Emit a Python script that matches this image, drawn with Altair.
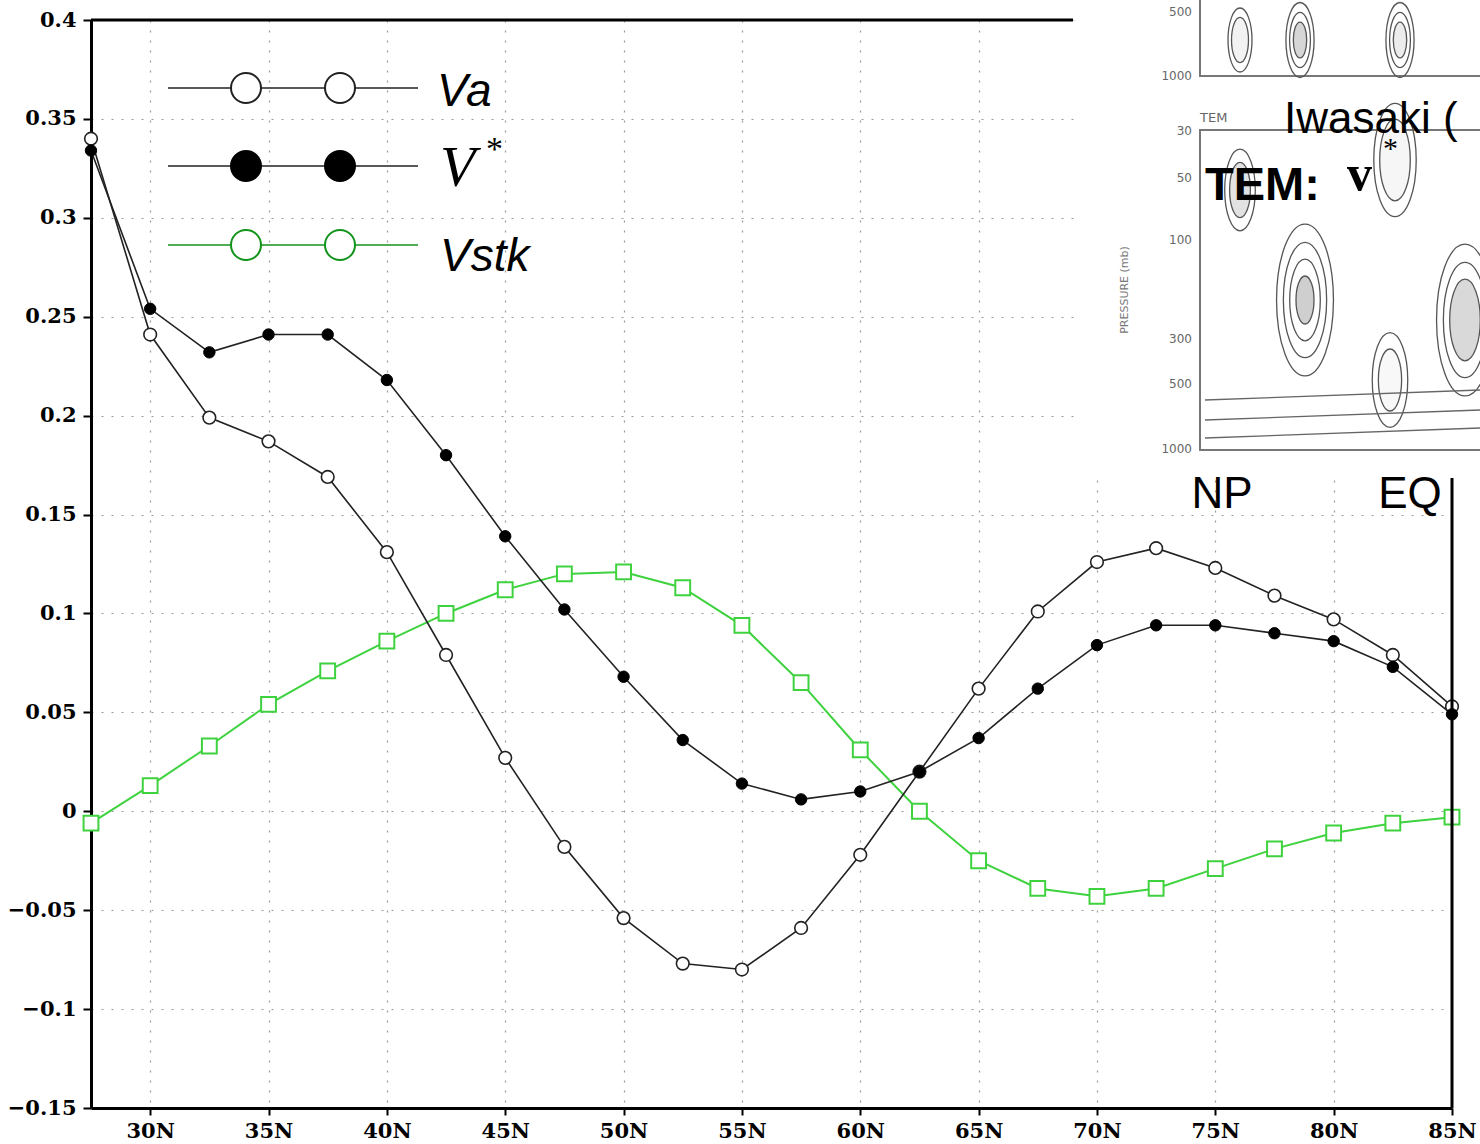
import altair as alt
import pandas as pd

# ---------------- data ----------------
lat = [27.5, 30, 32.5, 35, 37.5, 40, 42.5, 45, 47.5, 50, 52.5, 55,
       57.5, 60, 62.5, 65, 67.5, 70, 72.5, 75, 77.5, 80, 82.5, 85]
va = [0.340, 0.241, 0.199, 0.187, 0.169, 0.131, 0.079, 0.027, -0.018, -0.054, -0.077, -0.080,
      -0.059, -0.022, 0.020, 0.062, 0.101, 0.126, 0.133, 0.123, 0.109, 0.097, 0.079, 0.053]
vstar = [0.334, 0.254, 0.232, 0.241, 0.241, 0.218, 0.180, 0.139, 0.102, 0.068, 0.036, 0.014,
         0.006, 0.010, 0.020, 0.037, 0.062, 0.084, 0.094, 0.094, 0.090, 0.086, 0.073, 0.049]
vstk = [-0.006, 0.013, 0.033, 0.054, 0.071, 0.086, 0.100, 0.112, 0.120, 0.121, 0.113, 0.094,
        0.065, 0.031, 0.000, -0.025, -0.039, -0.043, -0.039, -0.029, -0.019, -0.011, -0.006, -0.003]
x_ticks = [30, 35, 40, 45, 50, 55, 60, 65, 70, 75, 80, 85]
y_ticks = [-0.15, -0.1, -0.05, 0, 0.05, 0.1, 0.15, 0.2, 0.25, 0.3, 0.35, 0.4]

# ---------------- layout ----------------
LEFT, TOP = 91, 20
W, H = 1361, 1088
GREEN = "#3fd23f"
DKGREEN = "#12931a"
LINE = "#222222"
TICKFONT = "DejaVu Serif"

df = pd.DataFrame({"lat": lat, "Va": va, "Vstar": vstar, "Vstk": vstk})

xenc = alt.X("lat:Q", title=None,
             scale=alt.Scale(domain=[27.5, 85], nice=False, zero=False),
             axis=alt.Axis(values=x_ticks, labelExpr="datum.value + 'N'",
                           labelFont=TICKFONT, labelFontWeight="bold", labelFontSize=21,
                           labelColor="black", labelPadding=5, labelFlush=False,
                           tickColor="black", tickWidth=2, tickSize=7,
                           domainColor="black", domainWidth=3,
                           grid=True, gridColor="#9a9a9a", gridDash=[2, 8], gridWidth=1.2))


def yenc(field):
    return alt.Y(f"{field}:Q", title=None,
                 scale=alt.Scale(domain=[-0.15, 0.4], nice=False, zero=False),
                 axis=alt.Axis(values=y_ticks, format=".2~f",
                               labelFont=TICKFONT, labelFontWeight="bold", labelFontSize=21,
                               labelColor="black", labelPadding=7,
                               tickColor="black", tickWidth=2, tickSize=8,
                               domainColor="black", domainWidth=3,
                               grid=True, gridColor="#9a9a9a", gridDash=[2, 8], gridWidth=1.2))


base = alt.Chart(df)

stk_line = base.mark_line(color=GREEN, strokeWidth=2).encode(x=xenc, y=yenc("Vstk"))
stk_pts = base.mark_point(shape="square", filled=True, fill="white", stroke=GREEN,
                          strokeWidth=2, size=220, opacity=1).encode(x="lat:Q", y="Vstk:Q")
va_line = base.mark_line(color=LINE, strokeWidth=1.6).encode(x="lat:Q", y="Va:Q")
va_pts = base.mark_point(shape="circle", filled=True, fill="white", stroke=LINE,
                         strokeWidth=1.6, size=160, opacity=1).encode(x="lat:Q", y="Va:Q")
vs_line = base.mark_line(color=LINE, strokeWidth=1.6).encode(x="lat:Q", y="Vstar:Q")
vs_pts = base.mark_point(shape="circle", filled=True, fill="black", stroke="black",
                         strokeWidth=1, size=130, opacity=1).encode(x="lat:Q", y="Vstar:Q")


def one():
    return alt.Chart(pd.DataFrame({"k": [0]}))


def txt(x, y, s, **kw):
    return one().mark_text(text=s, **kw).encode(x=alt.value(x - LEFT), y=alt.value(y - TOP))


def rule(x1, y1, x2, y2, color="black", width=3, **kw):
    return one().mark_rule(color=color, strokeWidth=width, **kw).encode(
        x=alt.value(x1 - LEFT), x2=alt.value(x2 - LEFT),
        y=alt.value(y1 - TOP), y2=alt.value(y2 - TOP))


def rect(x1, y1, x2, y2, **kw):
    return one().mark_rect(**kw).encode(
        x=alt.value(x1 - LEFT), x2=alt.value(x2 - LEFT),
        y=alt.value(y1 - TOP), y2=alt.value(y2 - TOP))


def dot(x, y, **kw):
    return one().mark_point(**kw).encode(x=alt.value(x - LEFT), y=alt.value(y - TOP))


# frame (top and right), partly hidden by the pasted inset
frame = [rule(LEFT, TOP, 1073, TOP), rule(1452, 478, 1452, 1108)]

# legend
legend = []
leg_rows = [(88, LINE, "white", LINE), (166, LINE, "black", "black"), (245, DKGREEN, "white", DKGREEN)]
for yy, lc, fc, sc in leg_rows:
    legend.append(rule(168, yy, 418, yy, color=lc, width=1.6))
    for xx in (246, 340):
        legend.append(dot(xx, yy, shape="circle", filled=True, fill=fc, stroke=sc,
                          strokeWidth=2, size=900, opacity=1))
legend.append(txt(437, 106, "Va", font="Liberation Sans", fontStyle="italic", fontSize=46,
                  align="left", baseline="alphabetic"))
legend.append(txt(440, 186, "V", font="Liberation Serif", fontStyle="italic", fontSize=58,
                  align="left", baseline="alphabetic"))
legend.append(txt(486, 160, "*", font="Liberation Serif", fontSize=34,
                  align="left", baseline="alphabetic"))
legend.append(txt(440, 271, "Vstk", font="Liberation Sans", fontStyle="italic", fontSize=46,
                  align="left", baseline="alphabetic"))

# pasted inset (top right): a scanned contour figure, sketched
ELL = "M0,-1.6A0.6,1.6 0 1,1 0,1.6A0.6,1.6 0 1,1 0,-1.6Z"
inset = [rect(1075, 0, 1480, 478, fill="white"),
         rect(1200, -10, 1490, 76, fill="white", stroke="#777777", strokeWidth=2),
         rect(1200, 130, 1490, 450, fill="white", stroke="#777777", strokeWidth=2)]
contours = [
    (1300, 40, [2200, 1200, 500], "#d6d6d6"),
    (1400, 40, [2200, 1200, 500], "#ececec"),
    (1240, 40, [1600, 800], "#f2f2f2"),
    (1305, 300, [9000, 5200, 2600, 900], "#cfcfcf"),
    (1465, 320, [9000, 5200, 2600], "#d9d9d9"),
    (1395, 160, [5000, 2600], "#f6f6f6"),
    (1240, 190, [2600, 1200], "#e2e2e2"),
    (1390, 380, [3500, 1500], "#f8f8f8"),
]
for cx, cy, sizes, fc in contours:
    for i, s in enumerate(sizes):
        inset.append(dot(cx, cy, shape=ELL, filled=True,
                         fill=fc if i == len(sizes) - 1 else "white",
                         fillOpacity=1 if i == len(sizes) - 1 else 0,
                         stroke="#555555", strokeWidth=1.3, size=s))
for yy in (400, 420, 438):
    inset.append(rule(1205, yy, 1480, yy - 10, color="#666666", width=1.3))
for lab, yy in [("500", 12), ("1000", 76), ("30", 131), ("50", 178), ("100", 240),
                ("300", 339), ("500", 384), ("1000", 449)]:
    inset.append(txt(1192, yy, lab, font="DejaVu Sans", fontSize=12, color="#666666",
                     align="right", baseline="middle"))
inset.append(txt(1125, 290, "PRESSURE (mb)", font="DejaVu Sans", fontSize=11, color="#777777",
                 angle=270, align="center", baseline="middle"))
inset.append(txt(1200, 118, "TEM", font="DejaVu Sans", fontSize=13, color="#666666",
                 align="left", baseline="middle"))
inset.append(txt(1284, 133, "Iwasaki (", font="Liberation Sans", fontSize=44,
                 align="left", baseline="alphabetic"))
inset.append(txt(1205, 200, "TEM:", font="Liberation Sans", fontWeight="bold", fontSize=47,
                 align="left", baseline="alphabetic"))
inset.append(txt(1347, 190, "v", font="Liberation Serif", fontWeight="bold", fontSize=50,
                 align="left", baseline="alphabetic"))
inset.append(txt(1383, 158, "*", font="Liberation Serif", fontSize=30,
                 align="left", baseline="alphabetic"))
inset.append(txt(1222, 508, "NP", font="Liberation Sans", fontSize=44,
                 align="center", baseline="alphabetic"))
inset.append(txt(1410, 508, "EQ", font="Liberation Sans", fontSize=44,
                 align="center", baseline="alphabetic"))

chart = alt.layer(stk_line, stk_pts, va_line, va_pts, vs_line, vs_pts,
                  *frame, *legend, *inset).properties(
    width=W, height=H,
    autosize=alt.AutoSizeParams(type="none"),
    padding={"left": LEFT, "top": TOP, "right": 1480 - LEFT - W, "bottom": 1144 - TOP - H},
).configure_view(stroke=None).configure(background="white")

chart.save("out.html", embed_options={"renderer": "svg", "actions": False})
